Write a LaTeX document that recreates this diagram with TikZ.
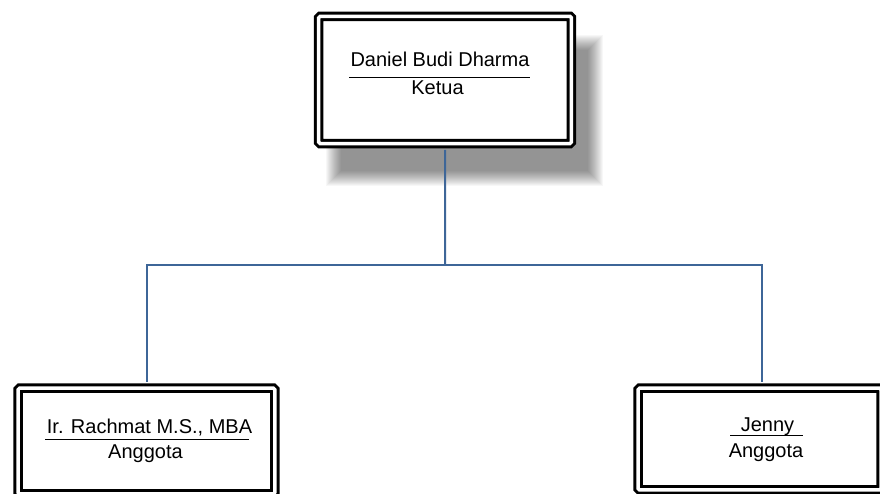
\documentclass[tikz,border=0pt]{standalone}
\usepackage{fontspec}
\setmainfont{Liberation Sans}
\definecolor{connblue}{RGB}{62,102,152}
\begin{document}
\begin{tikzpicture}[x=1pt,y=-1pt,
  orgbox/.style={draw=black, line width=3pt, double=white, double distance=3.5pt,
                 fill=white, rounded corners=1.5pt, inner sep=0pt},
  conn/.style={draw=connblue, line width=2pt},
  lbl/.style={font=\fontsize{20}{24}\selectfont, anchor=base, inner sep=0pt},
  rulebar/.style={line width=1.3pt},
  shadowlayer/.style={fill=black, opacity=0.03}]
\fill[white] (0,0) rectangle (880,493);
\clip (0,0) rectangle (880,493);
% soft shadow of top box
\foreach \i in {0,...,15}{
  \fill[shadowlayer] ({334-8+\i},{43-8+\i}) rectangle ({595+8-\i},{178+8-\i});
}
% coordinates for connectors
\coordinate (bus) at (445,265);
\coordinate (busL) at (147,265);
\coordinate (busR) at (762,265);
% boxes
\node[orgbox, minimum width=252.75pt, minimum height=127.25pt] (ketua) at (445.1,79.9) {};
\node[orgbox, minimum width=256.75pt, minimum height=105.75pt] (rachmat) at (146.4,441.1) {};
\node[orgbox, minimum width=243pt, minimum height=101.75pt] (jenny) at (759.5,439.1) {};
% connectors
\draw[conn, shorten <=4.75pt] (ketua.south) -- (bus);
\draw[conn, shorten <=4.75pt, shorten >=4.75pt]
  (busL |- rachmat.north) -- (busL) -- (busR) -- (busR |- jenny.north);
% texts
\node[lbl] (ketuaName) at (440,66.7) {Daniel Budi Dharma};
\draw[rulebar] (349,77.3) -- (530,77.3);
\node[lbl] (ketuaRole) at (437.5,94.5) {Ketua};
\node[lbl] (rachmatName) at (149.5,433.3) {Ir. Rachmat M.S., MBA};
\draw[rulebar] (45,439.3) -- (249.3,439.3);
\node[lbl] (rachmatRole) at (145.5,458.3) {Anggota};
\node[lbl] (jennyName) at (767.5,431.7) {Jenny};
\draw[rulebar] (730,435.7) -- (802.7,435.7);
\node[lbl] (jennyRole) at (766,457.3) {Anggota};
\end{tikzpicture}
\end{document}
